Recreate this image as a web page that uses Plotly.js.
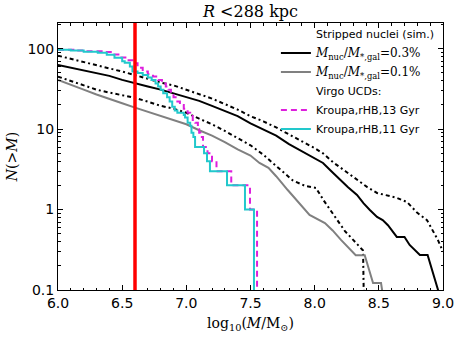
<!DOCTYPE html>
<html lang="en">
<head>
    <meta charset="UTF-8">
    <title>Stripped nuclei vs Virgo UCDs</title>
    <script src="https://cdn.plot.ly/plotly-3.0.1.min.js"></script>
    <style>
        body, html {
            margin: 0;
            padding: 0;
            background: white;
        }
        #chart {
            width: 458px;
            height: 338px;
        }
    </style>
</head>
<body>
    <div id="chart"></div>
    <script>
        // Simulated stripped nuclei, M_nuc/M_gal = 0.3% (mean and range)
        const nuc03X = [6.0, 6.1, 6.2, 6.3, 6.4, 6.5, 6.6, 6.7, 6.8, 6.9, 7.0, 7.1, 7.2, 7.3, 7.4, 7.5, 7.6, 7.7, 7.8, 7.9, 8.0, 8.065, 8.13, 8.197, 8.26, 8.33, 8.38, 8.43, 8.486, 8.53, 8.571, 8.64, 8.70, 8.74, 8.82, 8.88, 8.97];
        const nuc03N = [63, 58, 54, 50, 46, 41, 37, 34, 31, 28, 25, 22.5, 19.5, 17, 14.5, 11.8, 10, 8.3, 6.5, 5.3, 4.4, 3.8, 3.0, 2.34, 1.9, 1.52, 1.2, 0.99, 0.81, 0.74, 0.64, 0.457, 0.457, 0.363, 0.273, 0.273, 0.09];

        const hiX = [6.0, 6.1, 6.2, 6.3, 6.4, 6.5, 6.6, 6.7, 6.8, 6.9, 7.0, 7.1, 7.2, 7.3, 7.4, 7.5, 7.6, 7.7, 7.81, 7.9, 8.0, 8.065, 8.15, 8.24, 8.33, 8.41, 8.486, 8.56, 8.64, 8.72, 8.76, 8.80, 8.875, 8.92, 8.96, 9.0];
        const hiN = [82, 75, 69, 63, 57, 52, 47, 42, 38, 35, 31, 27, 24, 20.5, 17.5, 14.5, 12.5, 10.5, 8.5, 7.2, 5.8, 5.0, 3.8, 3.0, 2.34, 1.9, 1.61, 1.5, 1.40, 1.24, 1.05, 0.91, 0.74, 0.56, 0.42, 0.30];

        const loX = [6.0, 6.1, 6.2, 6.3, 6.4, 6.5, 6.6, 6.7, 6.8, 6.9, 7.0, 7.1, 7.2, 7.3, 7.4, 7.5, 7.6, 7.7, 7.74, 7.83, 7.925, 8.01, 8.07, 8.127, 8.18, 8.236, 8.30, 8.377, 8.385];
        const loN = [45, 40, 35, 31, 28.5, 26.5, 24.5, 22, 19.5, 18, 16, 13.5, 11.5, 9.5, 7.8, 6.3, 4.8, 3.5, 3.0, 2.3, 1.97, 1.86, 1.3, 0.96, 0.72, 0.54, 0.42, 0.31, 0.05];

        // Simulated stripped nuclei, M_nuc/M_gal = 0.1%
        const nuc01X = [6.0, 6.1, 6.2, 6.3, 6.4, 6.5, 6.6, 6.7, 6.8, 6.9, 7.0, 7.1, 7.2, 7.3, 7.4, 7.5, 7.57, 7.64, 7.70, 7.79, 7.88, 7.96, 8.08, 8.14, 8.205, 8.26, 8.32, 8.39, 8.455, 8.517, 8.53];
        const nuc01N = [41, 36, 31, 27, 24, 21, 18.5, 16.5, 14.5, 13, 11.5, 9.7, 8.3, 6.9, 5.6, 4.7, 3.8, 3.3, 2.6, 1.75, 1.2, 0.86, 0.68, 0.55, 0.42, 0.34, 0.27, 0.27, 0.122, 0.122, 0.09];

        // Virgo UCD cumulative counts (step), Kroupa IMF, rHB
        const ucd13X = [6.0, 6.12, 6.22, 6.34, 6.42, 6.48, 6.54, 6.58, 6.62, 6.66, 6.70, 6.74, 6.78, 6.81, 6.84, 6.86, 6.88, 6.90, 6.93, 6.95, 6.98, 7.01, 7.03, 7.05, 7.07, 7.09, 7.10, 7.11, 7.13, 7.165, 7.20, 7.235, 7.35, 7.496, 7.551];
        const ucd13N = [97, 95, 93, 91, 85, 78, 72, 66, 58, 52, 48, 45, 41, 37, 34, 31, 28, 25, 22, 20, 18, 16, 15, 13, 12, 10, 9, 8, 6, 5, 4, 3, 2, 1, 0.01];

        const ucd11X = [6.0, 6.10, 6.20, 6.31, 6.38, 6.44, 6.50, 6.52, 6.56, 6.58, 6.62, 6.66, 6.70, 6.73, 6.76, 6.78, 6.80, 6.82, 6.85, 6.87, 6.89, 6.91, 6.93, 6.98, 6.99, 7.01, 7.03, 7.04, 7.055, 7.068, 7.138, 7.161, 7.184, 7.317, 7.457, 7.527];
        const ucd11N = [97, 95, 92, 89, 84, 77, 70, 67, 60, 52, 50, 47, 44, 41, 37, 34, 31, 28, 25, 22, 19, 17, 16, 15, 14, 12, 11, 9, 8, 6, 5, 4, 3, 2, 1, 0.01];

        const cutMass = 6.6;   // red vertical marker

        const mathName = (pct) =>
            '<span style="font-family:DejaVu Serif;font-size:12px"><i>M</i><sub>nuc</sub>/<i>M</i><sub>*,gal</sub>=' + pct + '%</span>';

        const dashDot = '4px,3px,2px,3px';

        const traces = [
            {x: hiX, y: hiN, mode: 'lines', line: {color: 'black', width: 2, dash: dashDot}, showlegend: false},
            {x: loX, y: loN, mode: 'lines', line: {color: 'black', width: 2, dash: dashDot}, showlegend: false},
            {x: [null], y: [null], mode: 'lines', name: 'Stripped nuclei (sim.)', line: {color: 'rgba(0,0,0,0)', width: 0}},
            {x: nuc03X, y: nuc03N, mode: 'lines', name: mathName('0.3'), line: {color: 'black', width: 2}},
            {x: nuc01X, y: nuc01N, mode: 'lines', name: mathName('0.1'), line: {color: '#808080', width: 2}},
            {x: [null], y: [null], mode: 'lines', name: 'Virgo UCDs:', line: {color: 'rgba(0,0,0,0)', width: 0}},
            {x: ucd13X, y: ucd13N, mode: 'lines', name: 'Kroupa,rHB,13 Gyr', line: {color: '#dd1fdd', width: 2, dash: '6px,4px', shape: 'hv'}},
            {x: ucd11X, y: ucd11N, mode: 'lines', name: 'Kroupa,rHB,11 Gyr', line: {color: '#22c8cc', width: 2, shape: 'hv'}}
        ];

        const layout = {
            width: 458,
            height: 338,
            margin: {l: 58, r: 15, t: 23, b: 48},
            paper_bgcolor: 'white',
            plot_bgcolor: 'white',
            font: {family: 'DejaVu Sans', color: 'black'},
            title: {
                text: '<i>R</i> &lt;288 kpc',
                font: {family: 'DejaVu Serif', size: 16, color: 'black'},
                x: 0.5, xref: 'paper',
                y: 0.965, yref: 'container', yanchor: 'middle'
            },
            xaxis: {
                range: [6, 9],
                dtick: 0.5,
                tick0: 6,
                tickformat: '.1f',
                ticks: 'inside',
                ticklen: 5,
                tickcolor: 'black',
                mirror: 'allticks',
                showline: true,
                linecolor: 'black',
                linewidth: 1,
                showgrid: false,
                zeroline: false,
                tickfont: {family: 'DejaVu Sans', size: 14, color: 'black'},
                minor: {dtick: 0.1, ticks: 'inside', ticklen: 2.5, tickcolor: 'black', showgrid: false},
                title: {
                    text: 'log<sub>10</sub>(<i>M</i>/M<sub>⊙</sub>)',
                    font: {family: 'DejaVu Serif', size: 14, color: 'black'},
                    standoff: 8
                }
            },
            yaxis: {
                type: 'log',
                range: [-1, 2.32],
                dtick: 1,
                tick0: 0,
                ticks: 'inside',
                ticklen: 5,
                tickcolor: 'black',
                mirror: 'allticks',
                showline: true,
                linecolor: 'black',
                linewidth: 1,
                showgrid: false,
                zeroline: false,
                tickfont: {family: 'DejaVu Sans', size: 14, color: 'black'},
                minor: {dtick: 'D1', ticks: 'inside', ticklen: 2.5, tickcolor: 'black', showgrid: false},
                title: {
                    text: '<i>N</i>(&gt;<i>M</i>)',
                    font: {family: 'DejaVu Serif', size: 14, color: 'black'},
                    standoff: 6
                }
            },
            legend: {
                x: 0.566, xanchor: 'left',
                y: 1.013, yanchor: 'top',
                bgcolor: 'rgba(0,0,0,0)',
                borderwidth: 0,
                tracegroupgap: 0,
                font: {family: 'DejaVu Sans', size: 11, color: 'black'}
            },
            shapes: [{
                type: 'line',
                xref: 'x', yref: 'paper',
                x0: cutMass, x1: cutMass, y0: 0, y1: 1,
                line: {color: '#ff0000', width: 3.5},
                layer: 'above'
            }]
        };

        Plotly.newPlot('chart', traces, layout, {displayModeBar: false, staticPlot: true});
    </script>
</body>
</html>
